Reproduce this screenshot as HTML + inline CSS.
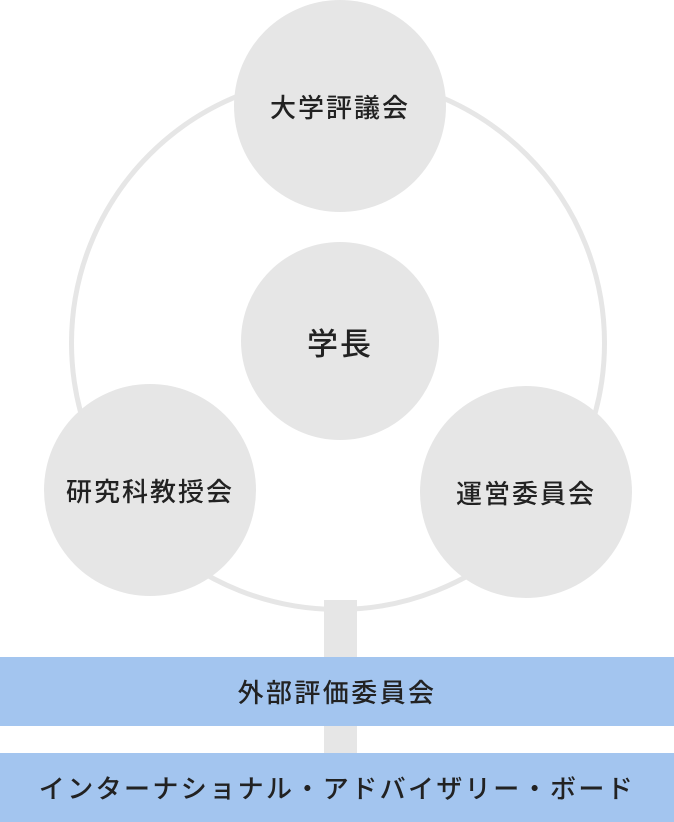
<!DOCTYPE html>
<html><head><meta charset="utf-8"><style>
body{margin:0;width:674px;height:822px;background:#fff;position:relative;overflow:hidden;font-family:"Liberation Sans","Noto Sans CJK JP",sans-serif;color:#222}
.c{position:absolute;border-radius:50%;background:#e6e6e6;display:flex;align-items:center;justify-content:center;font-size:26px;letter-spacing:2px;font-weight:500}
.bar{position:absolute;left:0;width:674px;background:#a3c5ef;display:flex;align-items:center;justify-content:center;font-size:26px;letter-spacing:2.4px;font-weight:500}
</style></head><body>
<div style="position:absolute;left:324px;top:600px;width:33px;height:160px;background:#e6e6e6"></div>
<div style="position:absolute;left:69px;top:74px;width:538px;height:538px;box-sizing:border-box;border:5px solid #e6e6e6;border-radius:50%"></div>
<div class="c" style="left:234px;top:0;width:212px;height:212px">大学評議会</div>
<div class="c" style="left:241px;top:242px;width:198px;height:198px;font-size:31px">学長</div>
<div class="c" style="left:44px;top:384px;width:212px;height:212px">研究科教授会</div>
<div class="c" style="left:420px;top:386px;width:212px;height:212px">運営委員会</div>
<div class="bar" style="top:657px;height:69px">外部評価委員会</div>
<div class="bar" style="top:753px;height:69px">インターナショナル・アドバイザリー・ボード</div>
</body></html>
